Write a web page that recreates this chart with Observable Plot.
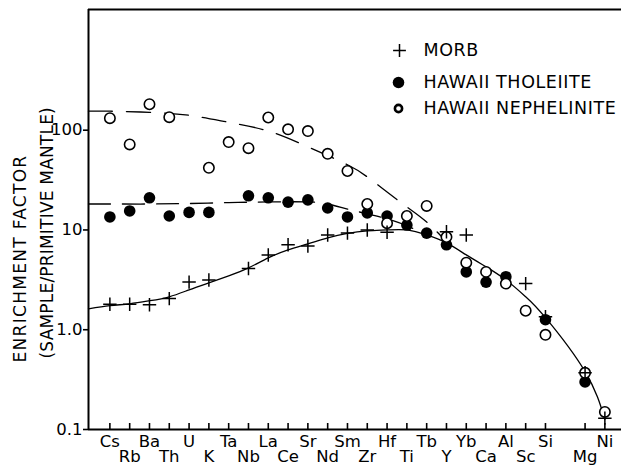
<!DOCTYPE html>
<html>
<head>
<meta charset="utf-8">
<script src="https://cdn.jsdelivr.net/npm/d3@7"></script>
<script src="https://cdn.jsdelivr.net/npm/@observablehq/plot@0.6"></script>
<style>
  html, body { margin: 0; padding: 0; background: #fff; }
</style>
</head>
<body>
<div id="chart"></div>
<script>
// Element order along the x axis (null = empty slot between Si and Mg)
const elements = ["Cs","Rb","Ba","Th","U","K","Ta","Nb","La","Ce","Sr","Nd","Sm","Zr","Hf","Ti","Tb","Y","Yb","Ca","Al","Sc","Si",null,"Mg","Ni"];

// Tick labels, staggered on two rows
const topRow = ["Cs","Ba","U","Ta","La","Sr","Sm","Hf","Tb","Yb","Al","Si","Ni"];
const bottomRow = ["Rb","Th","K","Nb","Ce","Nd","Zr","Ti","Y","Ca","Sc","Mg"];

// Enrichment factors (sample / primitive mantle), one value per element slot
const morb =        [1.8, 1.8, 1.78, 2.05, 3.0, 3.15, null, 4.1, 5.6, 7.1, 6.9, 8.9, 9.3, 10, 9.5, null, null, 9.6, 8.9, null, null, 2.9, 1.35, null, 0.37, 0.13];
const tholeiite =   [13.5, 15.5, 21, 13.8, 15, 15, null, 22, 21, 19, 20, 16.6, 13.5, 14.8, 13.8, 11.2, 9.3, 7.1, 3.8, 3.0, 3.4, null, 1.26, null, 0.30, null];
const nephelinite = [132, 72, 182, 135, null, 42, 76, 66, 134, 102, 98, 58, 39, 18.2, 11.7, 13.8, 17.4, 8.5, 4.7, 3.8, 2.9, 1.55, 0.89, null, 0.37, 0.15];

// Fitted trends: [slot, enrichment]
const morbFit = [[-1.08,1.62],[0,1.74],[1,1.82],[2,1.95],[3,2.14],[4,2.51],[5,2.95],[6,3.47],[7,4.17],[8,5.25],[9,6.31],[10,7.24],[11,8.32],[12,9.23],[13,9.77],[14,10],[15,10],[16,8.91],[17,7.41],[18,5.62],[19,4.27],[20,3.16],[21,2.14],[22,1.32],[24,0.38],[25,0.126]];
const tholeiiteFit = [[-1.08,18.2],[0,18.2],[2,18.2],[4,18.4],[6,18.8],[8,19.1],[10,19.1],[11,18.2],[12,16.2],[13,14.5],[14,12.9],[15,11.0],[16,8.91]];
const nephelFit = [[-1.08,155],[0,155],[2,151],[4,141],[6,120],[8,98],[10,68],[12,45],[13,34],[14,24],[15,17],[16,12],[17,7.6]];

// Y axis
const yTicks = [0.1, 1, 10, 100];
const yTickLabels = ["0.1", "1.0", "10", "100"];
const yMax = 1620;
const yTitle = ["ENRICHMENT FACTOR", "(SAMPLE/PRIMITIVE MANTLE)"];

// Legend
const legendLabels = ["MORB", "HAWAII THOLEIITE", "HAWAII NEPHELINITE"];
const legendRowY = [41, 73, 99];

const slot = (name) => elements.indexOf(name);
const points = (values) => values.map((v, i) => ({i, v})).filter((d) => d.v != null);
const tickSlots = elements.map((e, i) => (e ? i : null)).filter((i) => i != null);
const xMin = -1.08;

const lineStyle = {x: (d) => d[0], y: (d) => d[1], curve: "natural", stroke: "black", strokeWidth: 1.3};

const chart = Plot.plot({
  width: 621,
  height: 465,
  marginLeft: 88,
  marginRight: 0,
  marginTop: 9,
  marginBottom: 36,
  style: {fontFamily: "'DejaVu Sans', sans-serif", fontSize: "16px", background: "white", color: "black"},
  x: {type: "linear", domain: [xMin, 25.84], axis: null},
  y: {type: "log", domain: [0.1, yMax], axis: null},
  marks: [
    // frame lines
    Plot.ruleY([yMax], {strokeWidth: 2}),
    Plot.ruleY([0.1], {strokeWidth: 2}),
    Plot.ruleX([xMin], {strokeWidth: 2}),

    // axes
    Plot.axisY({ticks: yTicks, tickFormat: (d) => yTickLabels[yTicks.indexOf(d)], tickSize: 5, tickPadding: 1, strokeWidth: 1.6, fontSize: 16.5, label: null}),
    Plot.axisX(tickSlots, {tickSize: 6, dy: -6, strokeWidth: 1.6, tickFormat: () => "", label: null}),
    Plot.text(topRow, {x: slot, text: (d) => d, frameAnchor: "bottom", lineAnchor: "top", dy: 6, fontSize: 16.5}),
    Plot.text(bottomRow, {x: slot, text: (d) => d, frameAnchor: "bottom", lineAnchor: "top", dy: 21, fontSize: 16.5}),

    // y title
    Plot.text([yTitle[0]], {frameAnchor: "bottom-left", dx: -63, dy: -67, rotate: -90, textAnchor: "start", lineAnchor: "bottom", fontSize: 17}),
    Plot.text([yTitle[1]], {frameAnchor: "bottom-left", dx: -36, dy: -71, rotate: -90, textAnchor: "start", lineAnchor: "bottom", fontSize: 17}),

    // trends
    Plot.line(morbFit, lineStyle),
    Plot.line(tholeiiteFit, {...lineStyle, strokeDasharray: "22,12"}),
    Plot.line(nephelFit, {...lineStyle, strokeDasharray: "24,14"}),

    // samples
    Plot.dot(points(tholeiite), {x: "i", y: "v", r: 5.8, fill: "black", stroke: null}),
    Plot.dot(points(nephelinite), {x: "i", y: "v", r: 5.2, fill: "white", stroke: "black", strokeWidth: 1.6}),
    Plot.dot(points(morb), {x: "i", y: "v", symbol: "plus", r: 4.4, stroke: "black", strokeWidth: 1.5}),

    // legend
    Plot.dot([legendLabels[0]], {frameAnchor: "top-left", dx: 311, dy: legendRowY[0], symbol: "plus", r: 4.2, stroke: "black", strokeWidth: 1.5}),
    Plot.dot([legendLabels[1]], {frameAnchor: "top-left", dx: 310, dy: legendRowY[1], r: 5.8, fill: "black", stroke: null}),
    Plot.dot([legendLabels[2]], {frameAnchor: "top-left", dx: 310, dy: legendRowY[2], r: 3.6, fill: "white", stroke: "black", strokeWidth: 2.6}),
    ...legendLabels.map((label, i) =>
      Plot.text([label], {frameAnchor: "top-left", dx: 335, dy: legendRowY[i], textAnchor: "start", lineAnchor: "middle", fontSize: 17.5})
    )
  ]
});

// Spaced-out lettering for the axis title and legend
d3.select(chart).selectAll("text")
  .filter(function () { return this.textContent === yTitle[0]; })
  .attr("letter-spacing", "1.3px");
d3.select(chart).selectAll("text")
  .filter(function () { return this.textContent === yTitle[1]; })
  .attr("letter-spacing", "0.2px");
d3.select(chart).selectAll("text")
  .filter(function () { return legendLabels.includes(this.textContent); })
  .attr("letter-spacing", "0.6px");

document.getElementById("chart").append(chart);
</script>
</body>
</html>
